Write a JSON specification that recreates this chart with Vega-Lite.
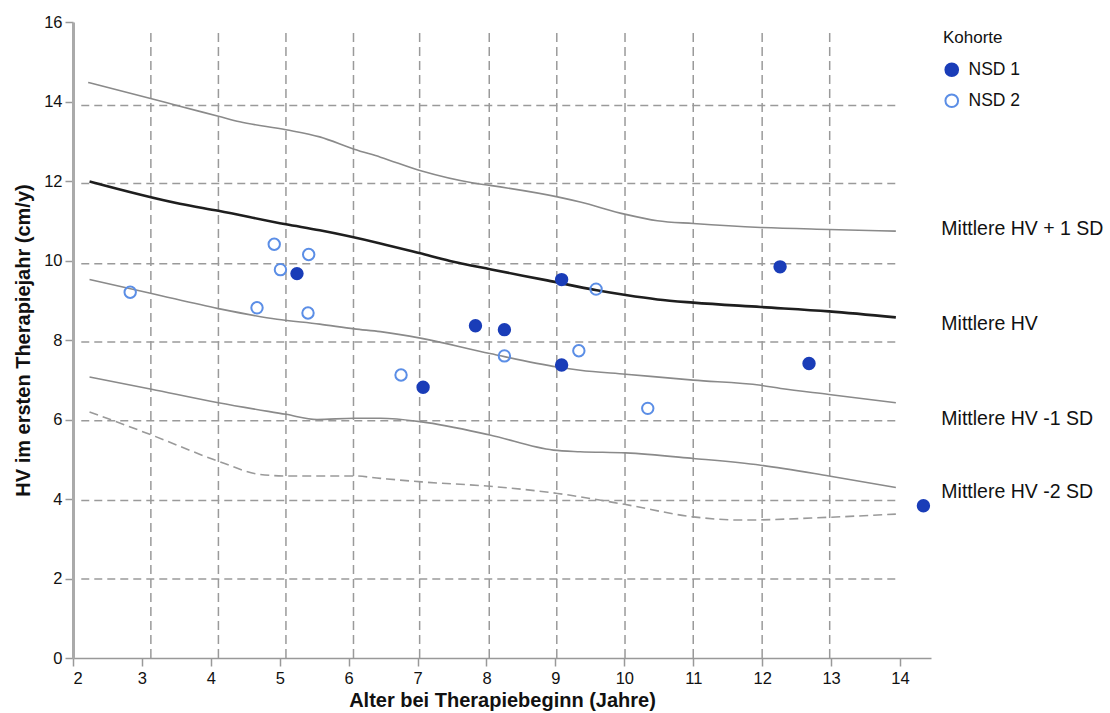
{
  "$schema": "https://vega.github.io/schema/vega-lite/v6.json",
  "width": 858,
  "height": 636,
  "autosize": {"type": "none"},
  "padding": {"left": 73, "top": 22, "right": 179, "bottom": 55},
  "background": "white",
  "config": {
    "font": "Liberation Sans",
    "view": {"stroke": null},
    "axis": {"grid": false, "labelFont": "Liberation Sans", "titleFont": "Liberation Sans", "labelColor": "#111", "titleColor": "#111"}
  },
  "datasets": {
    "vgrid": [
      {"x": 3.13}, {"x": 4.11}, {"x": 5.09}, {"x": 6.07}, {"x": 7.03}, {"x": 8.04},
      {"x": 9.02}, {"x": 10.01}, {"x": 11.0}, {"x": 12.0}, {"x": 12.98}
    ],
    "hgrid": [
      {"y": 13.9}, {"y": 11.94}, {"y": 9.92}, {"y": 7.95}, {"y": 5.97}, {"y": 3.96}, {"y": 1.99}
    ],
    "curves": [
      {"kurve": "sd1", "alter": 2.22, "hv": 14.48}, {"kurve": "sd1", "alter": 3.14, "hv": 14.07},
      {"kurve": "sd1", "alter": 3.55, "hv": 13.88}, {"kurve": "sd1", "alter": 4.11, "hv": 13.63},
      {"kurve": "sd1", "alter": 4.42, "hv": 13.49}, {"kurve": "sd1", "alter": 5.09, "hv": 13.29},
      {"kurve": "sd1", "alter": 5.58, "hv": 13.11}, {"kurve": "sd1", "alter": 6.08, "hv": 12.8},
      {"kurve": "sd1", "alter": 6.46, "hv": 12.6}, {"kurve": "sd1", "alter": 7.06, "hv": 12.25},
      {"kurve": "sd1", "alter": 7.81, "hv": 11.95}, {"kurve": "sd1", "alter": 8.05, "hv": 11.89},
      {"kurve": "sd1", "alter": 9.03, "hv": 11.6}, {"kurve": "sd1", "alter": 9.36, "hv": 11.47},
      {"kurve": "sd1", "alter": 10.02, "hv": 11.16}, {"kurve": "sd1", "alter": 10.48, "hv": 11.0},
      {"kurve": "sd1", "alter": 11.0, "hv": 10.93}, {"kurve": "sd1", "alter": 11.98, "hv": 10.83},
      {"kurve": "sd1", "alter": 12.97, "hv": 10.78}, {"kurve": "sd1", "alter": 13.94, "hv": 10.74},

      {"kurve": "mean", "alter": 2.24, "hv": 11.99}, {"kurve": "mean", "alter": 3.55, "hv": 11.43},
      {"kurve": "mean", "alter": 4.11, "hv": 11.25}, {"kurve": "mean", "alter": 5.09, "hv": 10.91},
      {"kurve": "mean", "alter": 5.58, "hv": 10.76}, {"kurve": "mean", "alter": 6.46, "hv": 10.43},
      {"kurve": "mean", "alter": 7.04, "hv": 10.18}, {"kurve": "mean", "alter": 7.47, "hv": 9.99},
      {"kurve": "mean", "alter": 8.05, "hv": 9.78}, {"kurve": "mean", "alter": 8.88, "hv": 9.5},
      {"kurve": "mean", "alter": 9.6, "hv": 9.25}, {"kurve": "mean", "alter": 10.02, "hv": 9.13},
      {"kurve": "mean", "alter": 10.48, "hv": 9.02}, {"kurve": "mean", "alter": 11.0, "hv": 8.94},
      {"kurve": "mean", "alter": 11.98, "hv": 8.83}, {"kurve": "mean", "alter": 12.97, "hv": 8.72},
      {"kurve": "mean", "alter": 13.94, "hv": 8.57},

      {"kurve": "sdm1", "alter": 2.24, "hv": 9.52}, {"kurve": "sdm1", "alter": 3.14, "hv": 9.17},
      {"kurve": "sdm1", "alter": 4.11, "hv": 8.79}, {"kurve": "sdm1", "alter": 4.96, "hv": 8.52},
      {"kurve": "sdm1", "alter": 5.58, "hv": 8.4}, {"kurve": "sdm1", "alter": 6.08, "hv": 8.28},
      {"kurve": "sdm1", "alter": 6.46, "hv": 8.21}, {"kurve": "sdm1", "alter": 7.06, "hv": 8.04},
      {"kurve": "sdm1", "alter": 8.05, "hv": 7.66}, {"kurve": "sdm1", "alter": 9.03, "hv": 7.32},
      {"kurve": "sdm1", "alter": 9.36, "hv": 7.24}, {"kurve": "sdm1", "alter": 10.02, "hv": 7.14},
      {"kurve": "sdm1", "alter": 11.0, "hv": 6.99}, {"kurve": "sdm1", "alter": 11.98, "hv": 6.86},
      {"kurve": "sdm1", "alter": 12.27, "hv": 6.78}, {"kurve": "sdm1", "alter": 12.97, "hv": 6.63},
      {"kurve": "sdm1", "alter": 13.94, "hv": 6.42},

      {"kurve": "sdm2", "alter": 2.24, "hv": 7.07}, {"kurve": "sdm2", "alter": 3.14, "hv": 6.76},
      {"kurve": "sdm2", "alter": 4.11, "hv": 6.42}, {"kurve": "sdm2", "alter": 5.09, "hv": 6.13},
      {"kurve": "sdm2", "alter": 5.54, "hv": 6.0}, {"kurve": "sdm2", "alter": 6.08, "hv": 6.03},
      {"kurve": "sdm2", "alter": 6.46, "hv": 6.03}, {"kurve": "sdm2", "alter": 7.06, "hv": 5.94},
      {"kurve": "sdm2", "alter": 8.05, "hv": 5.61}, {"kurve": "sdm2", "alter": 8.97, "hv": 5.23},
      {"kurve": "sdm2", "alter": 9.36, "hv": 5.19}, {"kurve": "sdm2", "alter": 10.02, "hv": 5.16},
      {"kurve": "sdm2", "alter": 11.0, "hv": 5.02}, {"kurve": "sdm2", "alter": 11.98, "hv": 4.85},
      {"kurve": "sdm2", "alter": 12.97, "hv": 4.58}, {"kurve": "sdm2", "alter": 13.94, "hv": 4.29},

      {"kurve": "p3", "alter": 2.24, "hv": 6.19}, {"kurve": "p3", "alter": 3.14, "hv": 5.61},
      {"kurve": "p3", "alter": 4.11, "hv": 4.95}, {"kurve": "p3", "alter": 4.71, "hv": 4.62},
      {"kurve": "p3", "alter": 5.09, "hv": 4.58}, {"kurve": "p3", "alter": 6.08, "hv": 4.58},
      {"kurve": "p3", "alter": 6.46, "hv": 4.52}, {"kurve": "p3", "alter": 7.06, "hv": 4.43},
      {"kurve": "p3", "alter": 8.05, "hv": 4.32}, {"kurve": "p3", "alter": 9.03, "hv": 4.14},
      {"kurve": "p3", "alter": 10.02, "hv": 3.86}, {"kurve": "p3", "alter": 11.0, "hv": 3.55},
      {"kurve": "p3", "alter": 11.7, "hv": 3.47}, {"kurve": "p3", "alter": 12.97, "hv": 3.54},
      {"kurve": "p3", "alter": 13.94, "hv": 3.62}
    ],
    "labels": [
      {"text": "Mittlere HV + 1 SD", "alter": 14.6, "hv": 10.79},
      {"text": "Mittlere HV", "alter": 14.6, "hv": 8.4},
      {"text": "Mittlere HV -1 SD", "alter": 14.6, "hv": 6.01},
      {"text": "Mittlere HV -2 SD", "alter": 14.6, "hv": 4.17}
    ],
    "patients": [
      {"Kohorte": "NSD 1", "alter": 5.25, "hv": 9.67},
      {"Kohorte": "NSD 1", "alter": 7.08, "hv": 6.81},
      {"Kohorte": "NSD 1", "alter": 7.84, "hv": 8.36},
      {"Kohorte": "NSD 1", "alter": 8.26, "hv": 8.26},
      {"Kohorte": "NSD 1", "alter": 9.09, "hv": 9.52},
      {"Kohorte": "NSD 1", "alter": 9.09, "hv": 7.37},
      {"Kohorte": "NSD 1", "alter": 12.26, "hv": 9.84},
      {"Kohorte": "NSD 1", "alter": 12.68, "hv": 7.41},
      {"Kohorte": "NSD 1", "alter": 14.34, "hv": 3.83},
      {"Kohorte": "NSD 2", "alter": 4.92, "hv": 10.41},
      {"Kohorte": "NSD 2", "alter": 5.42, "hv": 10.15},
      {"Kohorte": "NSD 2", "alter": 5.01, "hv": 9.77},
      {"Kohorte": "NSD 2", "alter": 2.83, "hv": 9.2},
      {"Kohorte": "NSD 2", "alter": 4.67, "hv": 8.81},
      {"Kohorte": "NSD 2", "alter": 5.41, "hv": 8.68},
      {"Kohorte": "NSD 2", "alter": 6.76, "hv": 7.12},
      {"Kohorte": "NSD 2", "alter": 8.26, "hv": 7.6},
      {"Kohorte": "NSD 2", "alter": 9.34, "hv": 7.73},
      {"Kohorte": "NSD 2", "alter": 9.59, "hv": 9.28},
      {"Kohorte": "NSD 2", "alter": 10.34, "hv": 6.28}
    ]
  },
  "layer": [
    {
      "data": {"name": "vgrid"},
      "mark": {"type": "rule", "color": "#9a9a9a", "strokeWidth": 1.5, "strokeDash": [9, 5]},
      "encoding": {
        "x": {"field": "x", "type": "quantitative", "scale": {"domain": [2, 14.45], "nice": false, "zero": false},
          "axis": {"values": [2,3,4,5,6,7,8,9,10,11,12,13,14], "format": "d", "title": "Alter bei Therapiebeginn (Jahre)",
            "labelFontSize": 16.5, "titleFontSize": 20, "titleFontWeight": "bold", "tickSize": 8,
            "domainColor": "#999", "tickColor": "#999", "domainWidth": 1.5, "tickWidth": 1.5,
            "labelPadding": 4, "titlePadding": 4}},
        "y": {"datum": 0, "type": "quantitative"},
        "y2": {"datum": 15.82}
      }
    },
    {
      "data": {"name": "hgrid"},
      "mark": {"type": "rule", "color": "#9a9a9a", "strokeWidth": 1.5, "strokeDash": [8, 5]},
      "encoding": {
        "y": {"field": "y", "type": "quantitative", "scale": {"domain": [0, 16], "nice": false},
          "axis": {"values": [0,2,4,6,8,10,12,14,16], "title": "HV im ersten Therapiejahr (cm/y)",
            "labelFontSize": 16.5, "titleFontSize": 20, "titleFontWeight": "bold", "tickSize": 8,
            "domainColor": "#aaa", "tickColor": "#999", "domainWidth": 3, "tickWidth": 1.5,
            "labelPadding": 3, "titlePadding": 10}},
        "x": {"datum": 2.12, "type": "quantitative"},
        "x2": {"datum": 13.96}
      }
    },
    {
      "data": {"name": "curves"},
      "transform": [{"filter": "datum.kurve == 'sd1' || datum.kurve == 'sdm1' || datum.kurve == 'sdm2'"}],
      "mark": {"type": "line", "color": "#8a8a8a", "strokeWidth": 1.6, "interpolate": "monotone"},
      "encoding": {
        "x": {"field": "alter", "type": "quantitative"},
        "y": {"field": "hv", "type": "quantitative"},
        "detail": {"field": "kurve"}
      }
    },
    {
      "data": {"name": "curves"},
      "transform": [{"filter": "datum.kurve == 'mean'"}],
      "mark": {"type": "line", "color": "#1e1e1e", "strokeWidth": 2.6, "interpolate": "monotone"},
      "encoding": {
        "x": {"field": "alter", "type": "quantitative"},
        "y": {"field": "hv", "type": "quantitative"}
      }
    },
    {
      "data": {"name": "curves"},
      "transform": [{"filter": "datum.kurve == 'p3'"}],
      "mark": {"type": "line", "color": "#9a9a9a", "strokeWidth": 1.6, "strokeDash": [9, 5], "interpolate": "monotone"},
      "encoding": {
        "x": {"field": "alter", "type": "quantitative"},
        "y": {"field": "hv", "type": "quantitative"}
      }
    },
    {
      "data": {"name": "labels"},
      "mark": {"type": "text", "align": "left", "baseline": "middle", "fontSize": 19.5, "font": "Liberation Sans", "color": "#111"},
      "encoding": {
        "x": {"field": "alter", "type": "quantitative"},
        "y": {"field": "hv", "type": "quantitative"},
        "text": {"field": "text"}
      }
    },
    {
      "data": {"name": "patients"},
      "mark": {"type": "point", "shape": "circle", "filled": true, "size": 130, "strokeWidth": 2, "opacity": 1},
      "encoding": {
        "x": {"field": "alter", "type": "quantitative"},
        "y": {"field": "hv", "type": "quantitative"},
        "fill": {"field": "Kohorte", "type": "nominal",
          "scale": {"domain": ["NSD 1", "NSD 2"], "range": ["#1a3db8", "transparent"]},
          "legend": {"title": "Kohorte", "orient": "none", "legendX": 870, "legendY": 8,
            "titleFontSize": 17, "titleFontWeight": "normal", "titleColor": "#111", "titleFont": "Liberation Sans",
            "labelFontSize": 17.5, "labelColor": "#111", "labelFont": "Liberation Sans",
            "symbolSize": 160, "symbolStrokeWidth": 2, "labelOffset": 8, "rowPadding": 9, "titlePadding": 14}},
        "stroke": {"field": "Kohorte", "type": "nominal",
          "scale": {"domain": ["NSD 1", "NSD 2"], "range": ["#1a3db8", "#5b8ee6"]}}
      }
    }
  ]
}
